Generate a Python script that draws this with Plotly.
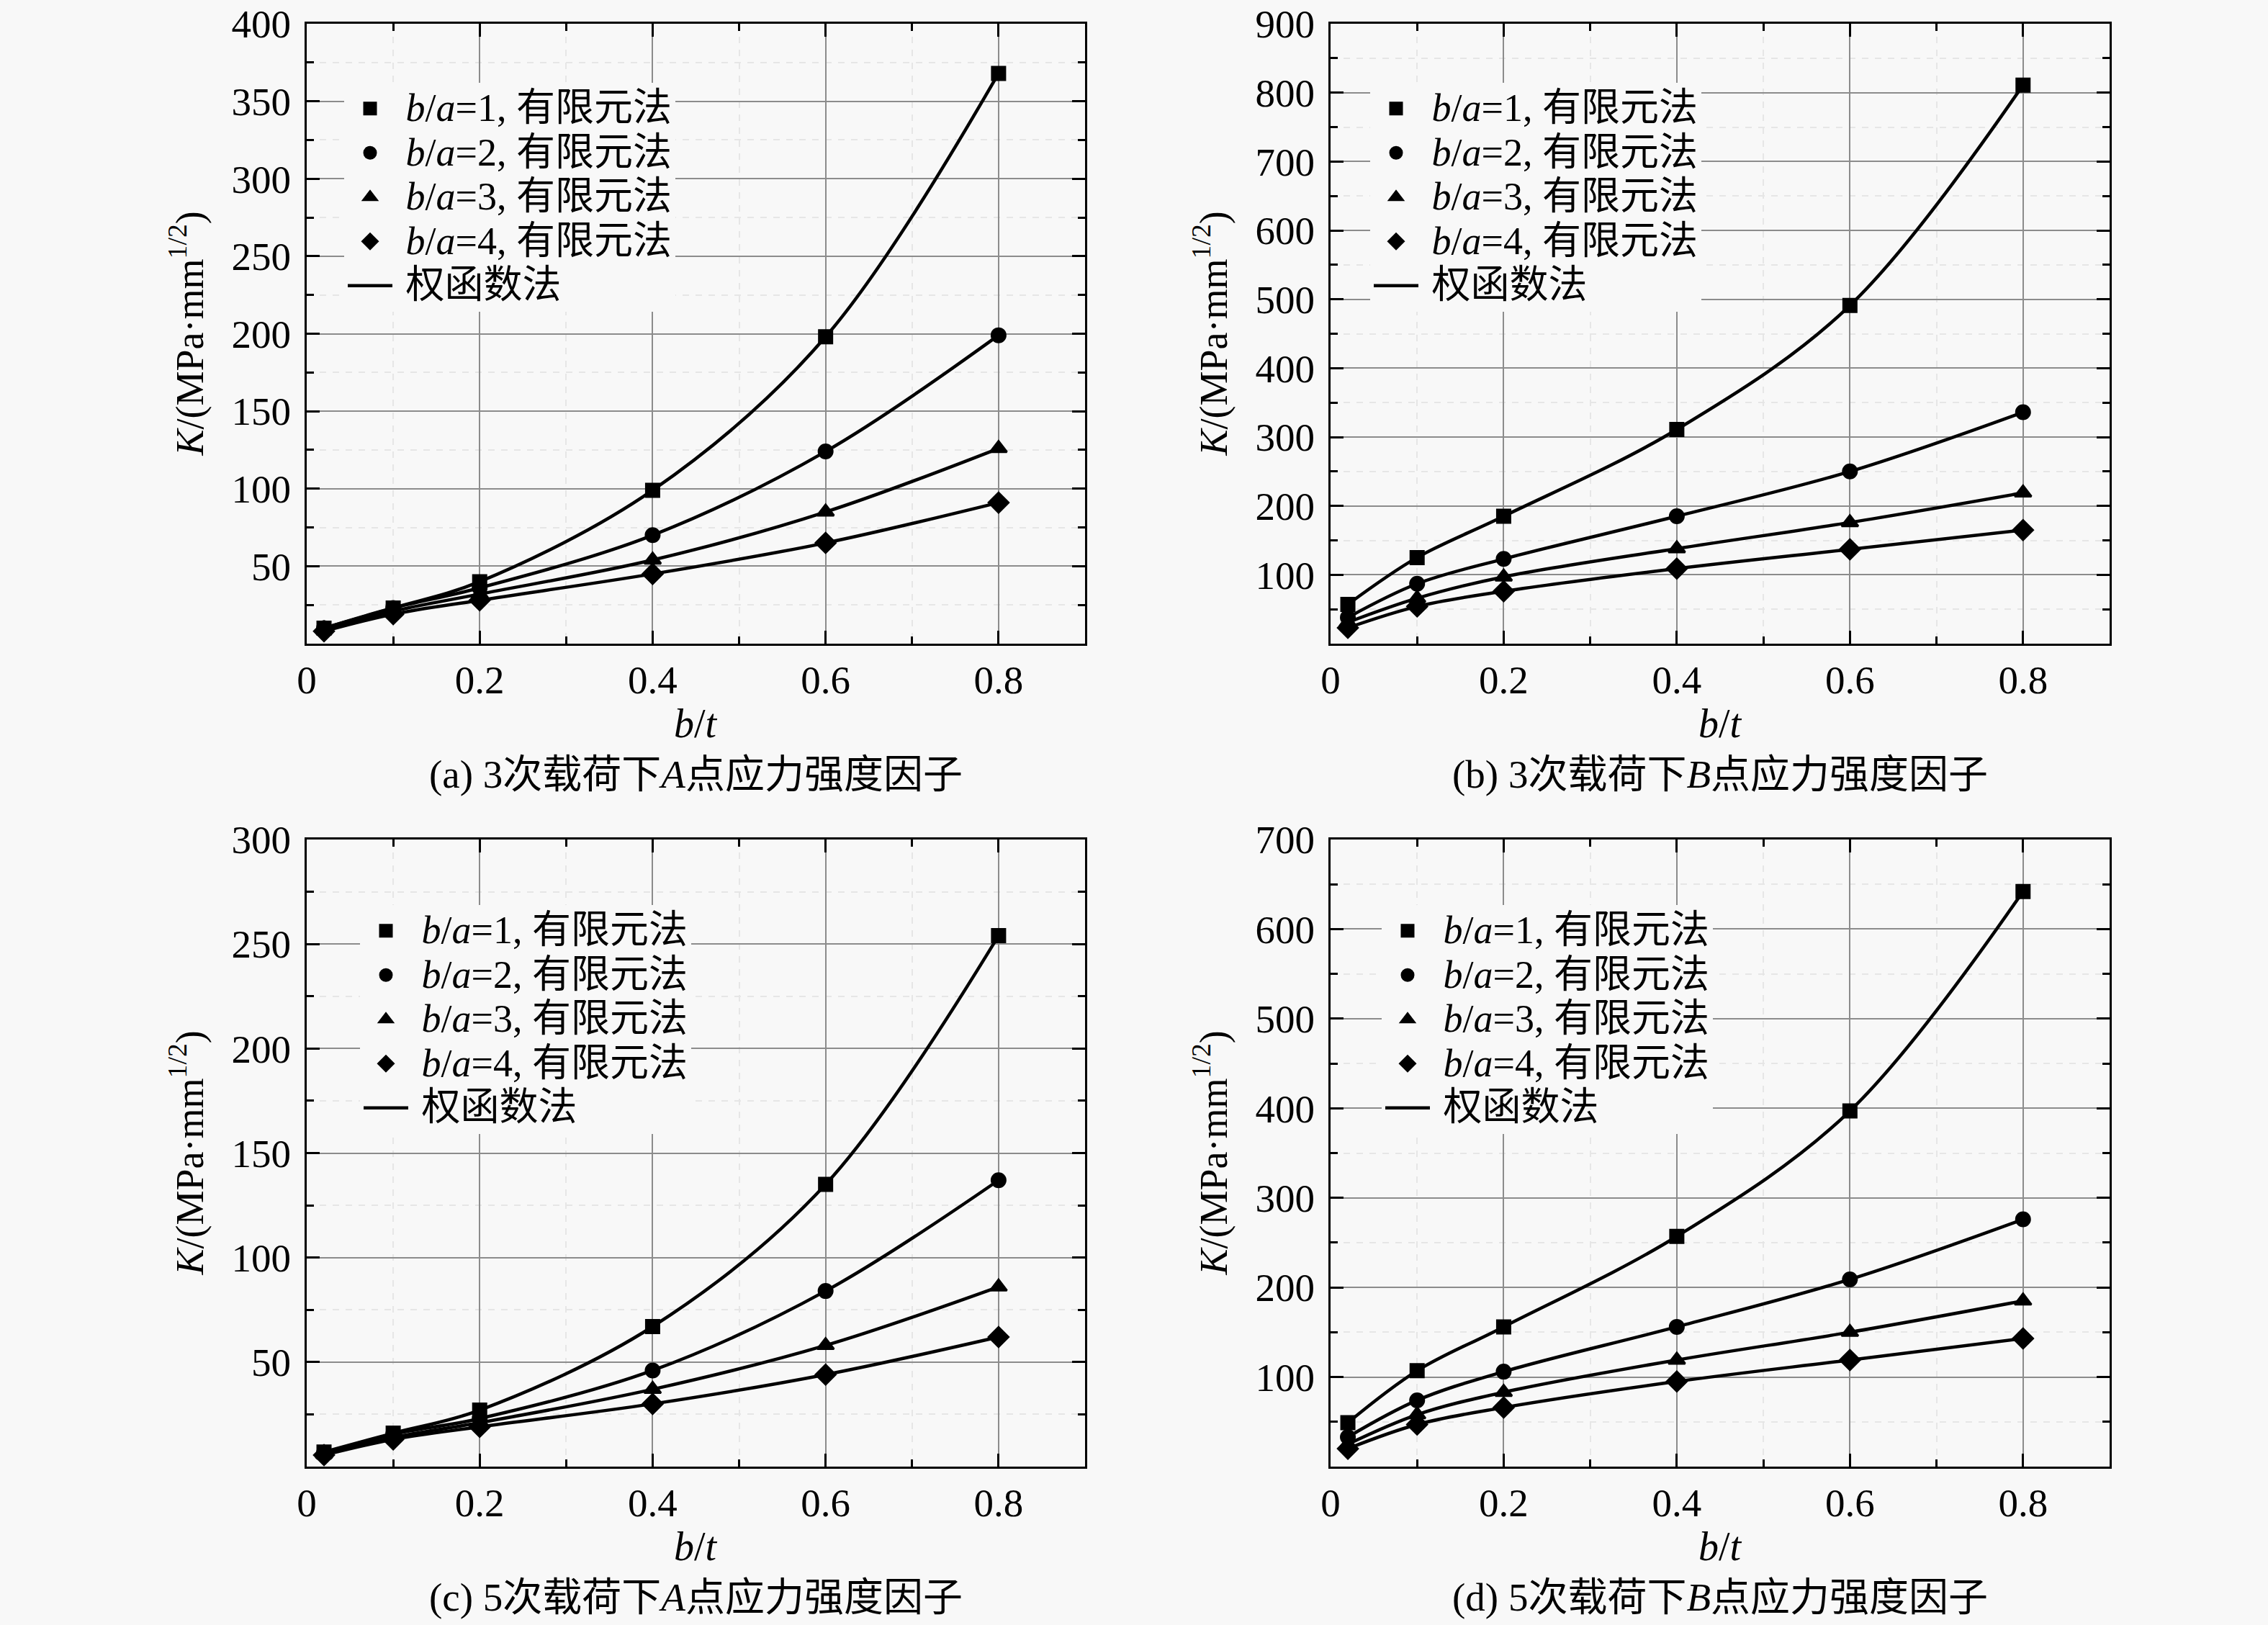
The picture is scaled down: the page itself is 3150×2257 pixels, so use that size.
import plotly.graph_objects as go

bt = [0.02, 0.1, 0.2, 0.4, 0.6, 0.8]

# (a) 3次载荷下A点
a_1 = [10, 23, 40, 99, 198, 368]
a_2 = [10, 23, 36, 70, 124, 199]
a_3 = [9, 21, 32, 54, 85, 126]
a_4 = [8, 19, 28, 45, 65, 91]
# (b) 3次载荷下B点
b_1 = [57, 125, 185, 311, 491, 811]
b_2 = [38, 87, 123, 185, 250, 336]
b_3 = [31, 66, 97, 138, 176, 219]
b_4 = [23, 54, 76, 109, 137, 165]
# (c) 5次载荷下A点
c_1 = [7, 16, 27, 67, 135, 254]
c_2 = [6.5, 15.5, 23, 46, 84, 137]
c_3 = [6, 14, 21, 37, 58, 86]
c_4 = [5.5, 13, 19, 30, 44, 62]
# (d) 5次载荷下B点
d_1 = [49, 107, 156, 257, 397, 642]
d_2 = [33, 74, 106, 156, 209, 276]
d_3 = [25, 58, 83, 119, 150, 185]
d_4 = [20, 47, 66, 95, 119, 143]

captions = ["(a) 3次载荷下<i>A</i>点应力强度因子", "(b) 3次载荷下<i>B</i>点应力强度因子",
            "(c) 5次载荷下<i>A</i>点应力强度因子", "(d) 5次载荷下<i>B</i>点应力强度因子"]
fem_names = ["<i>b</i>/<i>a</i>=1, 有限元法", "<i>b</i>/<i>a</i>=2, 有限元法",
             "<i>b</i>/<i>a</i>=3, 有限元法", "<i>b</i>/<i>a</i>=4, 有限元法"]
wf_name = "权函数法"
x_ticks = [0, 0.2, 0.4, 0.6, 0.8]
x_ticktext = ["0", "0.2", "0.4", "0.6", "0.8"]
y_max = [400, 900, 300, 700]
y_major = [50, 100, 50, 100]
symbols = ["square", "circle", "triangle-up", "diamond"]
msizes = [18, 19, 20, 21]

panels = [[a_1, a_2, a_3, a_4], [b_1, b_2, b_3, b_4], [c_1, c_2, c_3, c_4], [d_1, d_2, d_3, d_4]]

W, H = 3150, 2257
FONT = "Liberation Serif, Times New Roman, Noto Sans CJK SC"
BG = "#f8f8f8"


def big(s, px=54):
    return '<span style="font-size:%dpx">&nbsp;%s</span>' % (px, s)


# plot area pixel boxes (left, right, top, bottom)
boxes = [(426, 1507, 33, 894), (1848, 2930, 33, 894),
         (426, 1507, 1166, 2037), (1848, 2930, 1166, 2037)]
legend_xy = [(478, 115), (1903, 115), (500, 1257), (1919, 1257)]

fig = go.Figure()
layout = dict(template="none", width=W, height=H, margin=dict(l=0, r=0, t=0, b=0, autoexpand=False),
              paper_bgcolor=BG, plot_bgcolor=BG, font=dict(family=FONT, size=50, color="black"),
              annotations=[])

for i, series in enumerate(panels):
    sfx = "" if i == 0 else str(i + 1)
    xa, ya = "x" + sfx, "y" + sfx
    lg = "legend" + sfx
    for j, vals in enumerate(series):
        fig.add_trace(go.Scatter(x=bt, y=vals, mode="markers", name=big(fem_names[j]),
                                 marker=dict(symbol=symbols[j], size=msizes[j], color="black",
                                             line=dict(color="black", width=3)),
                                 xaxis=xa, yaxis=ya, legend=lg, showlegend=True))
    for j, vals in enumerate(series):
        fig.add_trace(go.Scatter(x=bt, y=vals, mode="lines", name=big(wf_name),
                                 line=dict(shape="spline", smoothing=1.0, color="black", width=4.5),
                                 xaxis=xa, yaxis=ya, legend=lg, showlegend=(j == 0)))
    l, r, t, b = boxes[i]
    xd = [l / W, r / W]
    yd = [1 - b / H, 1 - t / H]
    ax_common = dict(showline=True, linecolor="black", linewidth=3, mirror="ticks", automargin=False,
                     ticks="inside", ticklen=18, tickwidth=2.5, tickcolor="black",
                     ticklabeloverflow="allow",
                     showgrid=True, gridcolor="#8c8c8c", gridwidth=1.5, zeroline=False,
                     tickfont=dict(family=FONT, size=55, color="black"))
    layout["xaxis" + sfx] = dict(domain=xd, range=[0, 0.9], anchor=ya,
                                 tickvals=x_ticks, ticktext=x_ticktext,
                                 minor=dict(dtick=0.1, tick0=0, ticks="inside", ticklen=10, tickwidth=2.5,
                                            tickcolor="black", showgrid=True, gridcolor="#e6e6e6",
                                            griddash="dash", gridwidth=1.5),
                                 **ax_common)
    yt = list(range(y_major[i], y_max[i] + 1, y_major[i]))
    layout["yaxis" + sfx] = dict(domain=yd, range=[0, y_max[i]], anchor=xa,
                                 tickvals=yt, ticktext=[str(v) for v in yt], ticklabelstandoff=8,
                                 minor=dict(dtick=y_major[i] / 2, tick0=0, ticks="inside", ticklen=10,
                                            tickwidth=2.5, tickcolor="black", showgrid=True,
                                            gridcolor="#e6e6e6", griddash="dash", gridwidth=1.5),
                                 **ax_common)
    lx, ly = legend_xy[i]
    layout[lg] = dict(x=lx / W, y=1 - ly / H, xanchor="left", yanchor="top",
                      bgcolor=BG, borderwidth=0, itemwidth=62, tracegroupgap=0,
                      font=dict(family=FONT, size=45, color="black"))
    xc = (l + r) / 2 / W
    layout["annotations"] += [
        dict(text="<i>K</i>/(MPa·mm<sup>1/2</sup>)", x=(l - 166) / W, y=1 - (t + b) / 2 / H,
             xref="paper", yref="paper", textangle=-90, showarrow=False,
             xanchor="center", yanchor="middle", font=dict(family=FONT, size=54, color="black")),
        dict(text="<i>b</i>/<i>t</i>", x=xc, y=1 - (b + 111) / H, xref="paper", yref="paper",
             showarrow=False, xanchor="center", yanchor="middle",
             font=dict(family=FONT, size=56, color="black")),
        dict(text=captions[i], x=xc, y=1 - (b + 181) / H, xref="paper", yref="paper",
             showarrow=False, xanchor="center", yanchor="middle",
             font=dict(family=FONT, size=55, color="black")),
    ]

fig.update_layout(**layout)
fig.write_html("out.html", config={"displayModeBar": False},
               post_script="document.body.style.margin='0';")
